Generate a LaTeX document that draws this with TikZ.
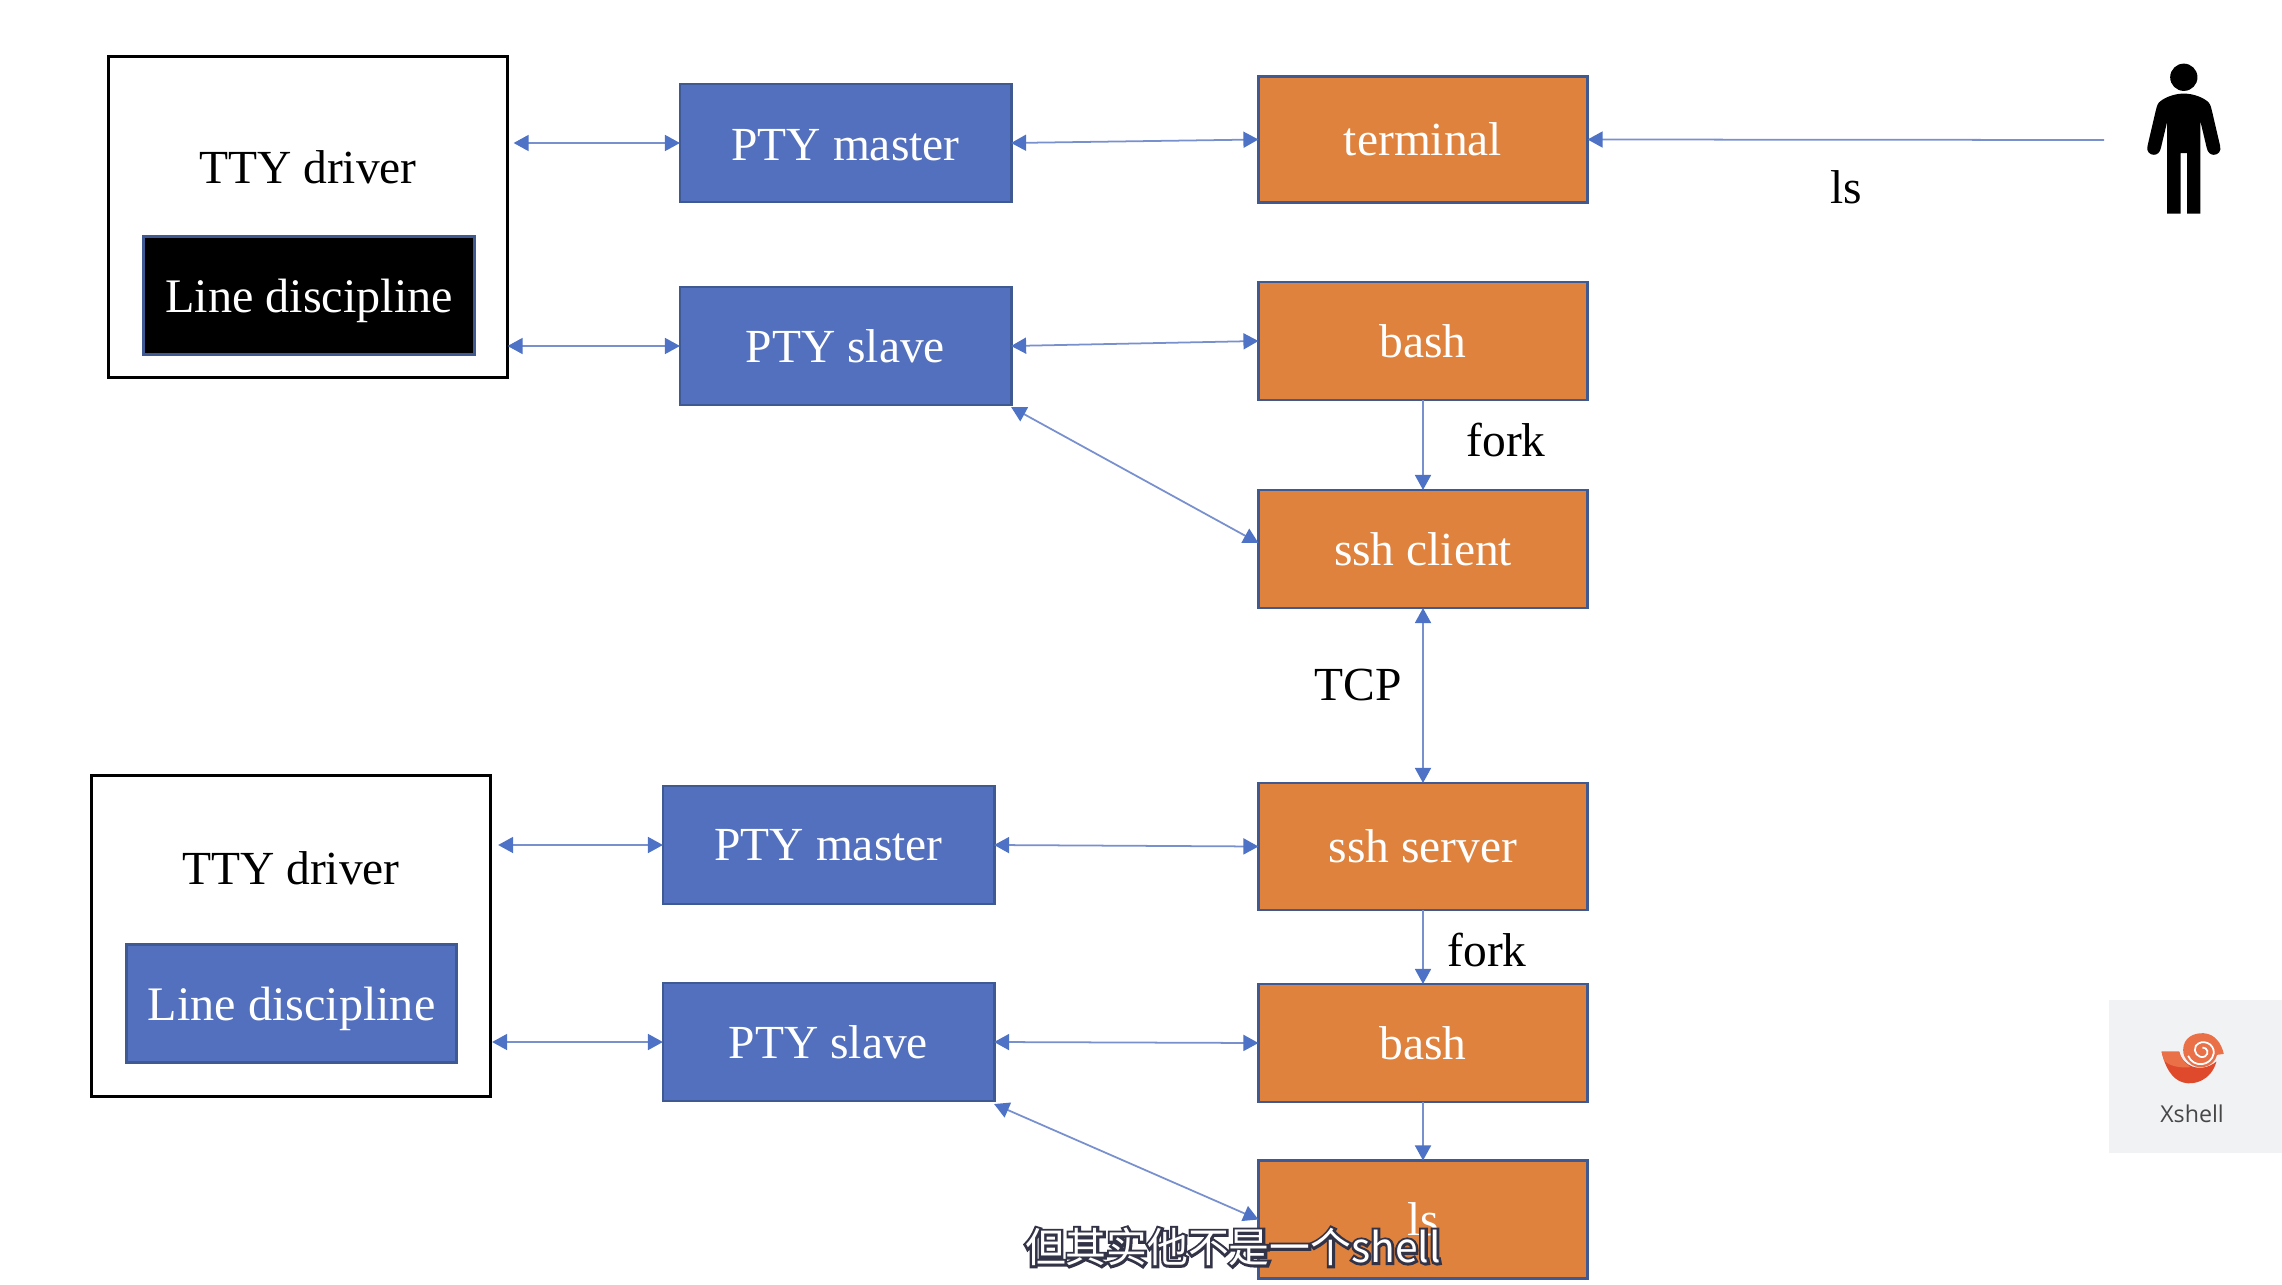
\documentclass[tikz,border=0pt]{standalone}
\usepackage{fontspec}
\setmainfont{Liberation Serif}
\newfontfamily\cjkfont{Noto Sans CJK SC}
\newfontfamily\uifont{Open Sans}
\usetikzlibrary{arrows.meta,calc,positioning}
\definecolor{ptyblue}{HTML}{5370BF}
\definecolor{procorange}{HTML}{DF823D}
\definecolor{boxedge}{HTML}{3F5A92}
\definecolor{linkblue}{HTML}{7890CE}
\definecolor{headblue}{HTML}{4D72C6}
\definecolor{panelgray}{HTML}{F1F2F4}
\definecolor{snaildark}{HTML}{DF4A2C}
\definecolor{snaillight}{HTML}{EA7048}
\newcommand{\captiontext}{但其实他不是一个shell}
\tikzset{
  labeltext/.style = {font=\fontsize{13.5}{16}\selectfont, inner sep=0pt},
  slidebox/.style  = {draw=boxedge, line width=0.8pt, text=white, inner sep=0pt, outer sep=0pt,
                      font=\fontsize{13.5}{16}\selectfont},
  ptybox/.style    = {slidebox, fill=ptyblue, minimum width=3.31cm, minimum height=1.18cm},
  linebox/.style   = {ptybox, font=\fontsize{13.7}{16}\selectfont, text depth=0pt},
  procbox/.style   = {slidebox, fill=procorange, minimum width=3.29cm},
  ttybox/.style    = {draw=black, line width=0.85pt, fill=white, inner sep=0pt, outer sep=0pt,
                      minimum height=3.2cm},
  head/.tip        = {Triangle[length=1.5mm,width=1.6mm,color=headblue,fill=headblue]},
  link/.style      = {draw=linkblue, line width=0.5pt, head-head},
  onelink/.style   = {draw=linkblue, line width=0.5pt, -head},
}
\begin{document}
\begin{tikzpicture}[x=0.01cm,y=-0.01cm]
  \useasboundingbox (0,0) rectangle (2282,1285);

  % upper machine
  \node[ttybox,minimum width=3.99cm] (ttyA) at (308,217) {};
  \node[labeltext] (ttyAlabel) at (308,167) {TTY driver};
  \node[linebox,fill=black,minimum width=3.3cm] (lineA) at (309,295.5) {Line discipline};
  \node[ptybox,text height=10.2pt] (ptymA) at (845.5,143) {PTY master};
  \node[ptybox] (ptysA) at (845.5,346) {PTY slave};
  \node[procbox,minimum height=1.26cm] (term) at (1423,139.5) {terminal};
  \node[procbox,minimum height=1.18cm] (bashA) at (1423,341) {bash};
  \node[procbox,minimum height=1.18cm] (sshc) at (1423,549) {ssh client};

  % lower machine
  \node[ttybox,minimum width=3.98cm] (ttyB) at (291,936) {};
  \node[labeltext] (ttyBlabel) at (291,868) {TTY driver};
  \node[linebox,minimum width=3.3cm] (lineB) at (291.5,1003.5) {Line discipline};
  \node[ptybox] (ptymB) at (828.5,845) {PTY master};
  \node[ptybox] (ptysB) at (828.5,1042) {PTY slave};
  \node[procbox,minimum height=1.27cm] (sshs) at (1423,846.5) {ssh server};
  \node[procbox,minimum height=1.18cm] (bashB) at (1423,1043) {bash};
  \node[procbox,minimum height=1.18cm] (lsproc) at (1423,1219.5) {ls};

  % person
  \coordinate (userend) at (2104,140);
  \begin{scope}[shift={(2060,40)},x=0.00333cm,y=-0.00333cm]
    \fill[black] (372,112) circle (41);
    \fill[black] (372,161) .. controls (340,161) and (310,175) .. (297,188)
      .. controls (290,198) and (290,205) .. (287,215) -- (263,318)
      .. controls (258,335) and (270,345) .. (282,345) .. controls (292,345) and (300,338) .. (303,325)
      -- (322,245) -- (322,522) -- (362,522) -- (362,340) -- (382,340) -- (382,522) -- (422,522)
      -- (422,245) -- (441,325) .. controls (444,338) and (452,345) .. (462,345)
      .. controls (474,345) and (486,335) .. (481,318) -- (457,215)
      .. controls (454,205) and (454,198) .. (447,188) .. controls (434,175) and (404,161) .. (372,161) -- cycle;
  \end{scope}

  % connectors
  \draw[link,shorten >=0.06cm] (ptymA.west) -- (ttyA.east |- ptymA.west);
  \draw[link] (ptysA.west) -- (ttyA.east |- ptysA.west);
  \draw[link] (ptymA.east) -- (term.west);
  \draw[link] (ptysA.east) -- (bashA.west);
  \draw[link] ([yshift=-0.02cm]ptysA.south east) -- ([yshift=0.06cm]sshc.west);
  \draw[onelink] (userend) -- (term.east);
  \draw[onelink] (bashA.south) -- (sshc.north);
  \draw[link] (sshc.south) -- (sshs.north);
  \draw[link,shorten >=0.08cm] (ptymB.west) -- (ttyB.east |- ptymB.west);
  \draw[link,shorten >=0.02cm] (ptysB.west) -- (ttyB.east |- ptysB.west);
  \draw[link] (ptymB.east) -- (sshs.west);
  \draw[link] (ptysB.east) -- (bashB.west);
  \draw[link] ([yshift=-0.03cm]ptysB.south east) -- (lsproc.west);
  \draw[onelink] (sshs.south) -- (bashB.north);
  \draw[onelink] (bashB.south) -- (lsproc.north);

  % link labels
  \node[labeltext] (lslabel) at (1846,187) {ls};
  \node[labeltext] (forkA) at (1506,440) {fork};
  \node[labeltext] (tcp) at (1358,685) {TCP};
  \node[labeltext] (forkB) at (1487,950) {fork};

  % app panel
  \fill[panelgray] (2109,1000) rectangle (2282,1153);
  \begin{scope}[shift={(2060,960)},x=0.00333cm,y=-0.00333cm]
    \fill[snaildark] (305,275) -- (358,275) .. controls (365,315) and (420,345) .. (470,305)
      .. controls (455,360) and (405,378) .. (370,368) .. controls (335,358) and (315,320) .. (305,275) -- cycle;
    \fill[snaillight] (305,275) -- (358,275) .. controls (362,295) and (375,310) .. (392,322)
      .. controls (365,325) and (325,320) .. (312,300) -- cycle;
    \fill[snaillight] (370,270) .. controls (370,235) and (400,218) .. (432,220)
      .. controls (465,222) and (485,250) .. (492,282) -- (472,285)
      .. controls (462,325) and (410,335) .. (385,305) .. controls (375,295) and (370,285) .. (370,270) -- cycle;
    \draw[white,line width=0.5pt] (385,288) .. controls (400,325) and (455,320) .. (462,280)
      .. controls (465,250) and (425,235) .. (408,258) .. controls (398,275) and (415,298) .. (435,290)
      .. controls (450,282) and (443,262) .. (428,263);
  \end{scope}
  \node[font=\uifont\fontsize{6.6}{8}\selectfont,text=black!72,inner sep=0pt] (xshell) at (2192,1114) {Xshell};

  % subtitle
  \node[font=\cjkfont\fontsize{11.6}{14}\selectfont,text=white,inner sep=0pt] (caption) at (1233,1247)
    {\rlap{\special{pdf:code 2 Tr 1.4 w 0.2 0.2 0.28 RG}\captiontext\special{pdf:code 0 Tr}}\captiontext};
\end{tikzpicture}
\end{document}
